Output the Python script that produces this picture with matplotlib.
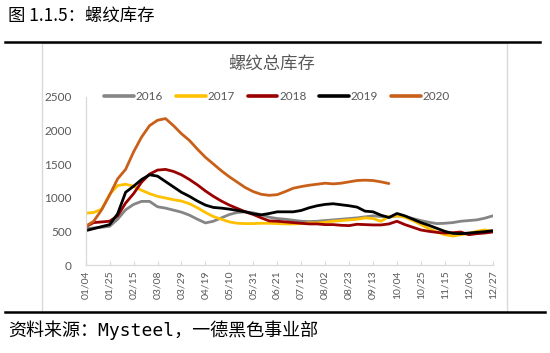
import matplotlib
matplotlib.use("Agg")
import matplotlib.pyplot as plt
import matplotlib.patches as mpatches
from matplotlib.lines import Line2D
import numpy as np

plt.rcParams["font.family"] = ["Noto Sans CJK SC", "DejaVu Sans"]
plt.rcParams["axes.unicode_minus"] = False

# 周度螺纹总库存 (万吨)，52 周
tick_labels = ["01/04", "01/25", "02/15", "03/08", "03/29", "04/19", "05/10",
               "05/31", "06/21", "07/12", "08/02", "08/23", "09/13", "10/04",
               "10/25", "11/15", "12/06", "12/27"]

stock_2016 = [540, 550, 560, 575, 680, 820, 900, 945, 945, 865, 845, 815, 785,
              740, 680, 625, 650, 700, 750, 780, 790, 775, 745, 710, 690, 680,
              665, 650, 645, 650, 660, 670, 680, 690, 700, 715, 730, 720, 710,
              730, 720, 690, 660, 635, 615, 620, 630, 650, 660, 670, 695, 730]
stock_2017 = [770, 780, 830, 1050, 1180, 1200, 1170, 1110, 1060, 1020, 995, 970,
              950, 910, 850, 780, 720, 680, 640, 620, 615, 615, 620, 620, 615,
              610, 610, 615, 625, 625, 635, 650, 660, 670, 680, 700, 690, 650,
              720, 730, 710, 660, 600, 540, 490, 450, 430, 450, 470, 500, 520, 500]
stock_2018 = [570, 630, 640, 650, 730, 920, 1060, 1230, 1350, 1410, 1420, 1390,
              1340, 1270, 1190, 1100, 1020, 950, 890, 840, 790, 750, 700, 655,
              650, 640, 630, 620, 610, 610, 600, 600, 590, 585, 605, 600, 595,
              595, 610, 650, 600, 560, 520, 500, 485, 475, 480, 490, 450, 465,
              475, 490]
stock_2019 = [510, 540, 570, 600, 760, 1080, 1170, 1270, 1340, 1320, 1240, 1160,
              1080, 1020, 950, 890, 855, 845, 830, 810, 790, 760, 745, 765, 790,
              790, 790, 810, 850, 880, 900, 910, 895, 880, 860, 800, 790, 740,
              705, 765, 730, 680, 630, 590, 545, 500, 470, 465, 475, 485, 495, 510]
stock_2020 = [575, 650, 820, 1040, 1280, 1420, 1680, 1900, 2070, 2150, 2175,
              2070, 1950, 1850, 1720, 1600, 1500, 1400, 1310, 1230, 1150, 1090,
              1050, 1035, 1045, 1090, 1140, 1165, 1185, 1200, 1215, 1205, 1215,
              1235, 1255, 1260, 1255, 1235, 1210]

series = [("2016", stock_2016, "#858585"),
          ("2017", stock_2017, "#FFC000"),
          ("2018", stock_2018, "#9A0000"),
          ("2019", stock_2019, "#000000"),
          ("2020", stock_2020, "#C8601A")]

W, H = 550, 353
fig = plt.figure(figsize=(W / 100, H / 100), dpi=100)
fig.patch.set_facecolor("white")

# 外框 + 上下黑线
fig.patches.append(mpatches.Rectangle((41.7 / W, 1 - 312 / H), (507 - 41.7) / W,
                                      (312 - 43) / H, transform=fig.transFigure,
                                      fill=False, edgecolor="#D9D9D9", lw=1.0))
fig.add_artist(Line2D([5 / W, 540 / W], [1 - 42 / H] * 2, color="black", lw=1.8))
fig.add_artist(Line2D([5 / W, 545 / W], [1 - 312 / H] * 2, color="black", lw=1.8))

fig.text(8 / W, 1 - 16 / H, "图 1.1.5：螺纹库存", fontsize=12.5, va="center",
         ha="left", color="black")
fig.text(8 / W, 1 - 330 / H, "资料来源：Mysteel，一德黑色事业部", fontsize=13,
         va="center", ha="left", color="black",
         family=["DejaVu Sans Mono", "Noto Sans CJK SC"])
fig.text(272 / W, 1 - 64 / H, "螺纹总库存", fontsize=12.5, va="center",
         ha="center", color="#595959")

ax = fig.add_axes([85.7 / W, 1 - 265 / H, (492.7 - 85.7) / W, (265 - 96.7) / H])
ax.set_facecolor("none")

for name, vals, col in series:
    ax.plot(np.arange(len(vals)), vals, color=col, lw=2.0, label=name,
            solid_joinstyle="round", solid_capstyle="round")

ax.set_xlim(0, 51)
ax.set_ylim(0, 2500)
ax.set_yticks(np.arange(0, 2501, 500))
ax.set_xticks(np.arange(0, 52, 3))
ax.set_xticklabels(tick_labels, rotation=90, family="Lato", fontsize=7.5,
                   color="#595959")
for t in ax.get_yticklabels():
    t.set_family("Lato")
    t.set_fontsize(8.5)
    t.set_color("#595959")
ax.tick_params(axis="y", length=0, pad=10)
ax.tick_params(axis="x", length=3, direction="in", color="#D9D9D9", pad=4)

for s in ["top", "right"]:
    ax.spines[s].set_visible(False)
for s in ["left", "bottom"]:
    ax.spines[s].set_color("#D9D9D9")
    ax.spines[s].set_linewidth(0.9)

leg = fig.legend(loc="center", bbox_to_anchor=(277 / W, 1 - 97 / H), ncol=5,
                 frameon=False, handlelength=2.5, handletextpad=0.15,
                 columnspacing=1.1, prop={"family": "Lato", "size": 8.5})
for t in leg.get_texts():
    t.set_color("#595959")
for h in leg.get_lines():
    h.set_linewidth(2.6)

fig.savefig("out.png", dpi=100, facecolor="white")
